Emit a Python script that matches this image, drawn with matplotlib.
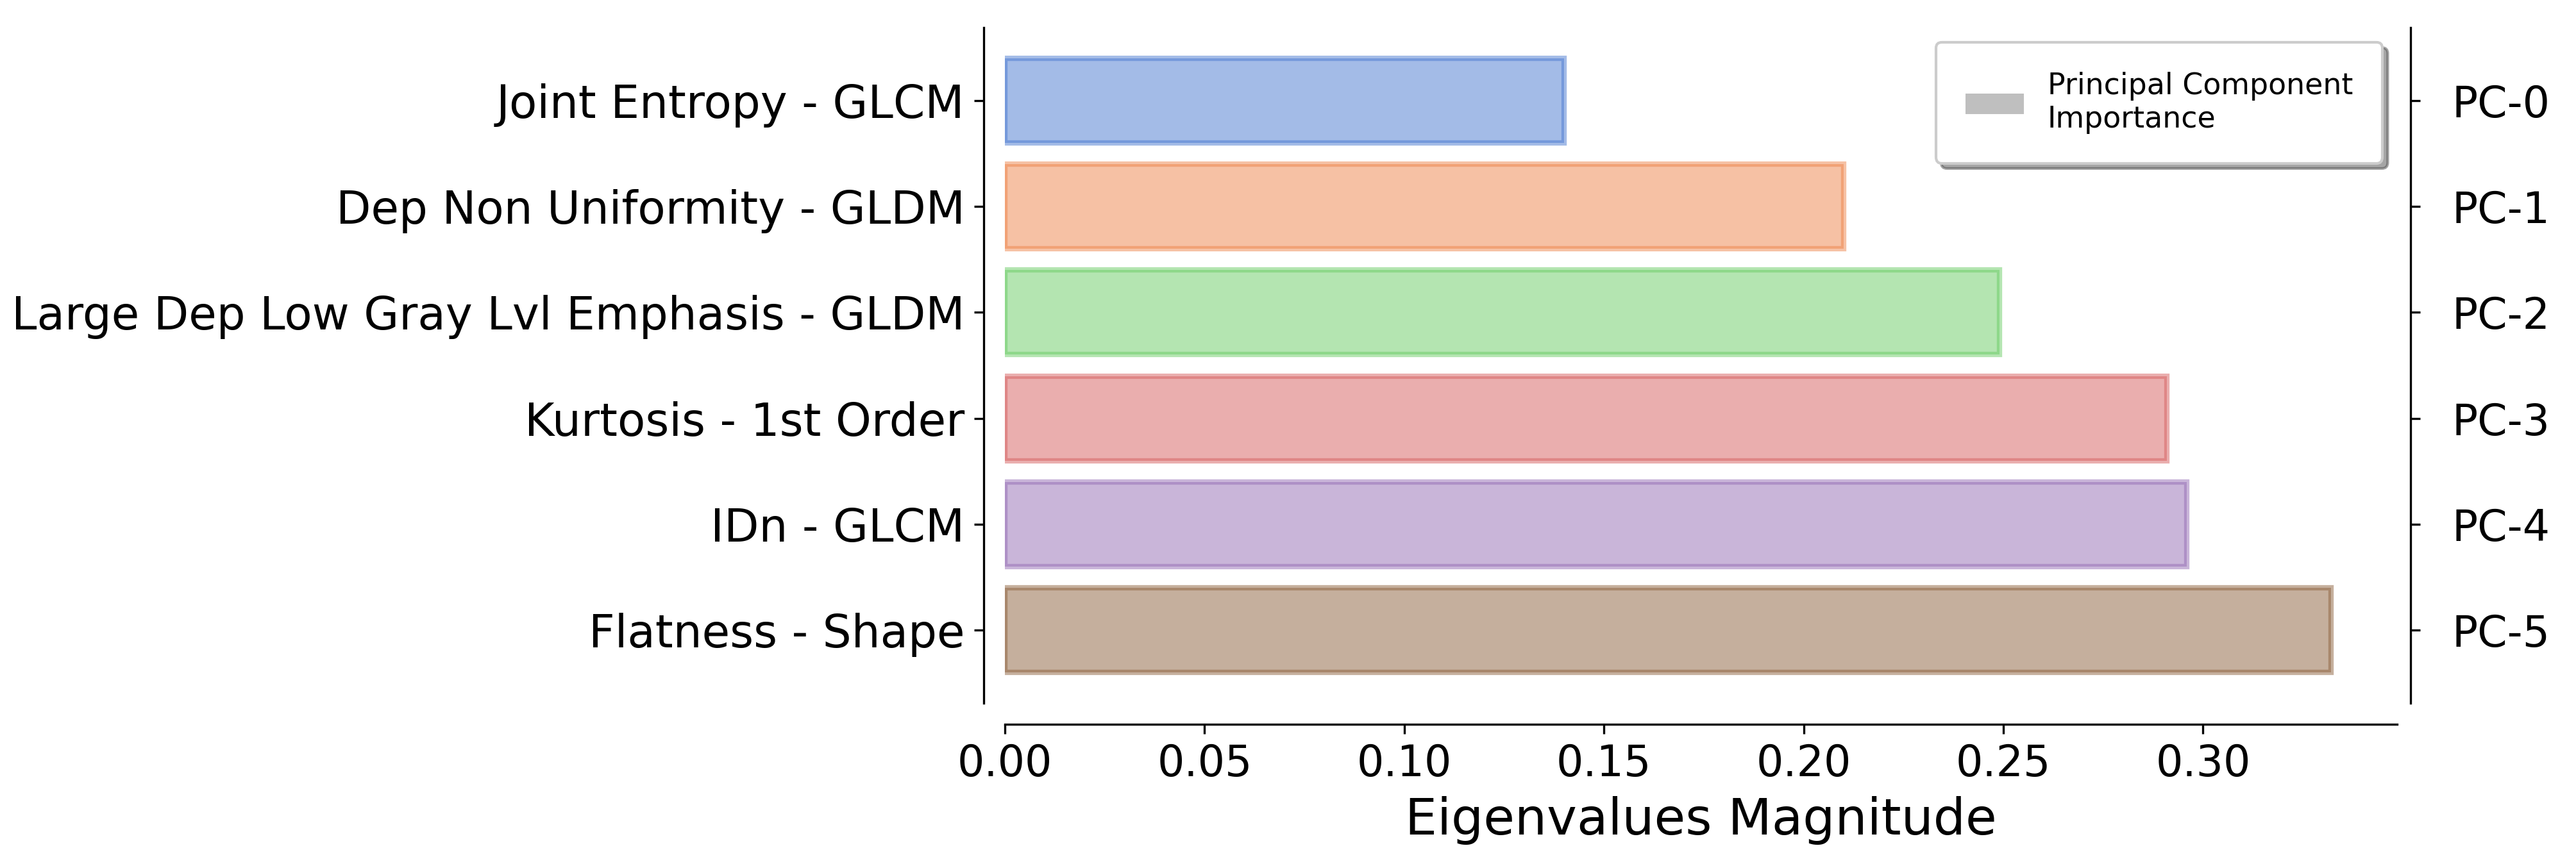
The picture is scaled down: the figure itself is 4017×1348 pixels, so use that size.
import matplotlib
matplotlib.use("Agg")
import matplotlib.pyplot as plt
from matplotlib.patches import Patch

features = [
    "Joint Entropy - GLCM",
    "Dep Non Uniformity - GLDM",
    "Large Dep Low Gray Lvl Emphasis - GLDM",
    "Kurtosis - 1st Order",
    "IDn - GLCM",
    "Flatness - Shape",
]
components = ["PC-0", "PC-1", "PC-2", "PC-3", "PC-4", "PC-5"]
eigenvalues = [0.140, 0.210, 0.249, 0.291, 0.296, 0.332]
colors = ["#4878D0", "#EE854A", "#6ACC64", "#D65F5F", "#956CB4", "#8C613C"]
legend_label = "Principal Component\nImportance"

W, H, DPI = 4017, 1348, 300
fig = plt.figure(figsize=(W / DPI, H / DPI), dpi=DPI)
fig.patch.set_facecolor("white")

left, right, top, bottom = 1567, 3738, 43, 1097
ax = fig.add_axes([left / W, 1 - bottom / H, (right - left) / W, (bottom - top) / H])

ypos = list(range(len(features)))
ax.barh(ypos, eigenvalues, height=0.8, color=colors, edgecolor=colors,
        alpha=0.5, linewidth=2)
ax.set_yticks(ypos)
ax.set_yticklabels(features)
ax.invert_yaxis()
ax.set_xlabel("Eigenvalues Magnitude", fontsize=19)

ax2 = ax.twinx()
ax2.set_ylim(ax.get_ylim())
ax2.set_yticks(ypos)
ax2.set_yticklabels(components)

ax.tick_params(axis="x", labelsize=16)
ax.tick_params(axis="y", labelsize=17)
ax2.tick_params(axis="y", labelsize=16, pad=12)

ax.spines["top"].set_visible(False)
ax.spines["right"].set_visible(False)
ax.spines["left"].set_position(("outward", 8))
ax.spines["bottom"].set_position(("outward", 8))
for s in ["top", "left", "bottom"]:
    ax2.spines[s].set_visible(False)
ax2.spines["right"].set_position(("outward", 5))

handle = Patch(facecolor="gray", alpha=0.5, edgecolor="none", label=legend_label)
ax2.legend(handles=[handle], loc="upper right", fontsize=11, shadow=True,
           fancybox=True, borderpad=1.0)

fig.savefig("out.png", dpi=DPI)
